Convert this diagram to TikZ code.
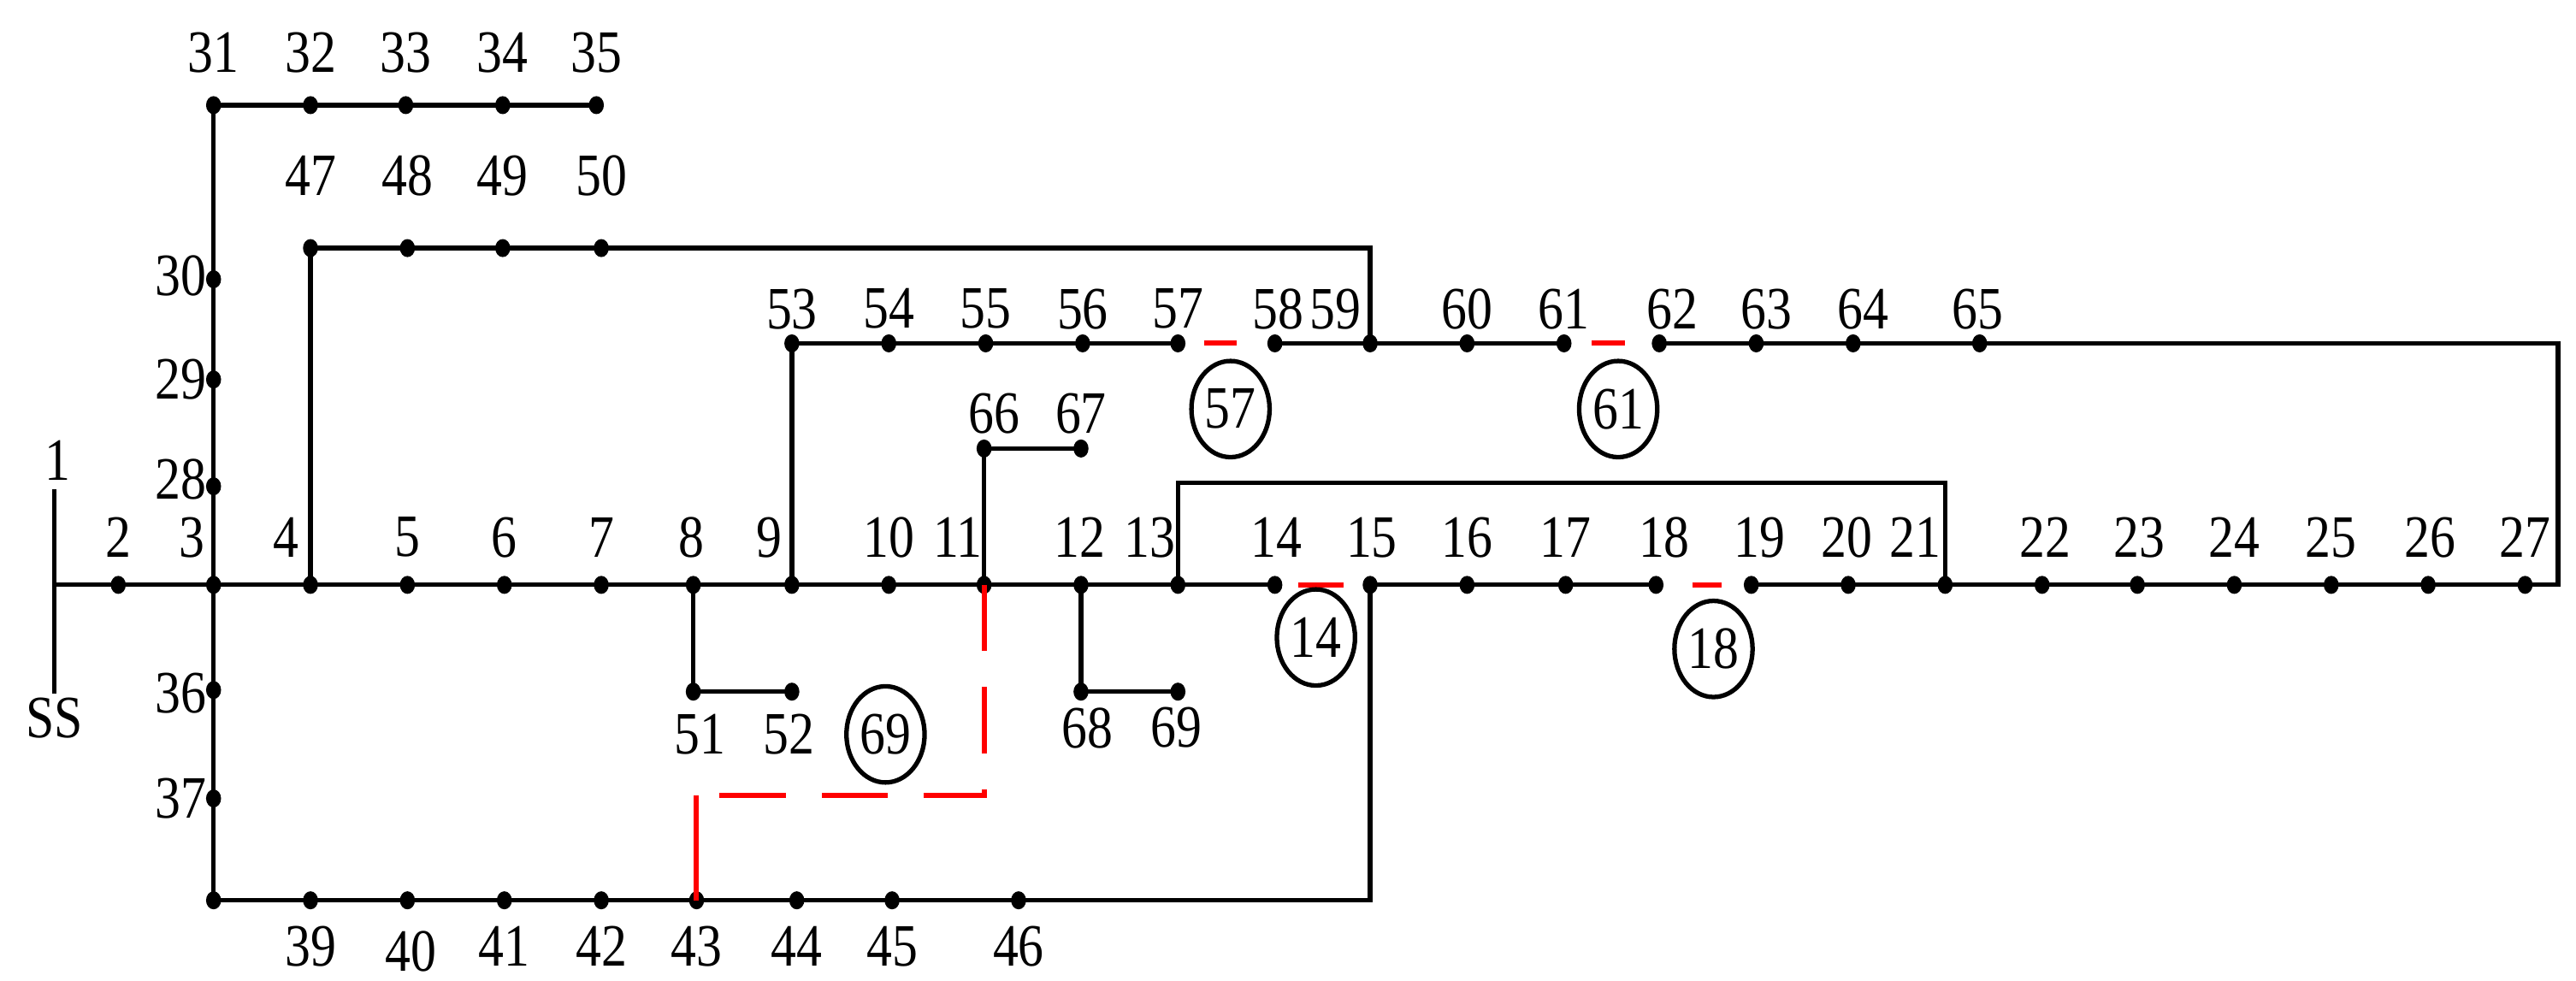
\documentclass[tikz,border=0pt]{standalone}
\usepackage{fontspec}
\setmainfont{Liberation Serif}
\tikzset{
  dot/.style={ellipse,fill=black,inner sep=0pt,minimum width=5pt,minimum height=6pt},
  lbl/.style={font=\fontsize{20}{20}\selectfont,inner sep=0pt,xscale=0.85},
  line/.style={black,line width=1.5pt},
  tie/.style={red,line width=1.7pt},
  loopno/.style={ellipse,draw=black,line width=1.5pt,minimum width=26pt,minimum height=32pt,inner sep=0pt,font=\fontsize{20}{20}\selectfont}
}
\usetikzlibrary{shapes.geometric}
\begin{document}
\begin{tikzpicture}[x=0.01921cm,y=-0.01921cm]
\useasboundingbox (0,0) rectangle (1568,597);
% main feeder
\coordinate (n1) at (33,356);
\coordinate (ssT) at (33,298);
\coordinate (ssB) at (33,422);
\foreach \n/\x in {2/72,3/130,4/189,5/248,6/307,7/366,8/422,9/482,10/541,11/599,12/658,13/717,14/776,15/834,16/893,17/953,18/1008,19/1066,20/1125,21/1184,22/1243,23/1301,24/1360,25/1419,26/1478,27/1537}
  \node[dot] (n\n) at (\x,356) {};
\foreach \n/\x in {2/72,3/117,4/174,5/248,6/307,7/366,8/421,9/468,10/541,11/583,12/657,13/700,14/777,15/835,16/893,17/953,18/1013,19/1071,20/1124,21/1166,22/1245,23/1302,24/1360,25/1419,26/1479,27/1537}
  \node[lbl] (t\n) at (\x,327) {\n};
\node[lbl] (t1) at (35,280) {1};
\node[lbl] (tss) at (33,437) {SS};
% left lateral
\foreach \n/\y in {28/296,29/231,30/170,36/420,37/486}
  \node[dot] (n\n) at (130,\y) {};
\foreach \n/\y in {28/292,29/231,30/168,36/422,37/486}
  \node[lbl] (t\n) at (110,\y) {\n};
\foreach \n/\x in {31/130,32/189,33/247,34/306,35/363}
  {\node[dot] (n\n) at (\x,64) {};
   \node[lbl] (t\n) at (\x,32) {\n};}
\foreach \n/\x in {47/189,48/248,49/306,50/366}
  {\node[dot] (n\n) at (\x,151) {};
   \node[lbl] (t\n) at (\x,107) {\n};}
\foreach \n/\x in {53/482,54/541,55/600,56/659,57/717,58/776,59/834,60/893,61/952,62/1010,63/1069,64/1128,65/1205}
  \node[dot] (n\n) at (\x,209) {};
\foreach \n/\x in {53/482,54/541,55/600,56/659,57/717,58/778,59/813,60/893,61/952,62/1018,63/1075,64/1134,65/1204}
  \node[lbl] (t\n) at (\x,188) {\n};
\node[dot] (n66) at (599,273) {};
\node[dot] (n67) at (658,273) {};
\node[lbl] (t66) at (605,252) {66};
\node[lbl] (t67) at (658,252) {67};
\node[dot] (n51) at (422,421) {};
\node[dot] (n52) at (482,421) {};
\node[lbl] (t51) at (426,447) {51};
\node[lbl] (t52) at (480,447) {52};
\node[dot] (n68) at (658,421) {};
\node[dot] (n69) at (717,421) {};
\node[lbl] (t68) at (662,443) {68};
\node[lbl] (t69) at (716,443) {69};
\foreach \n/\x in {38/130,39/189,40/248,41/307,42/366,43/424,44/485,45/543,46/620}
  \node[dot] (n\n) at (\x,548) {};
\foreach \n/\x/\y in {39/189/576,40/250/579,41/307/576,42/366/576,43/424/576,44/485/576,45/543/576,46/620/576}
  \node[lbl] (t\n) at (\x,\y) {\n};
% corners
\coordinate (c59) at (834,151);
\coordinate (cR1) at (1557,209);
\coordinate (cR2) at (1557,356);
\coordinate (c13) at (717,294);
\coordinate (c21) at (1184,294);
\coordinate (c15) at (834,548);
\coordinate (c69a) at (599,484);
\coordinate (c69b) at (424,484);
% lines
\draw[line] (ssT) -- (ssB);
\draw[line] (n1) -- (n2.center) -- (n3.center) -- (n4.center) -- (n5.center) -- (n6.center) -- (n7.center) -- (n8.center) -- (n9.center) -- (n10.center) -- (n11.center) -- (n12.center) -- (n13.center) -- (n14.center);
\draw[line] (n15.center) -- (n16.center) -- (n17.center) -- (n18.center);
\draw[line] (n19.center) -- (n20.center) -- (n21.center) -- (n22.center) -- (n23.center) -- (n24.center) -- (n25.center) -- (n26.center) -- (n27.center) -- (cR2) -- (cR1) -- (n65.center) -- (n64.center) -- (n63.center) -- (n62.center);
\draw[line] (n61.center) -- (n60.center) -- (n59.center) -- (n58.center);
\draw[line] (n57.center) -- (n56.center) -- (n55.center) -- (n54.center) -- (n53.center) -- (n9.center);
\draw[line] (n3.center) -- (n28.center) -- (n29.center) -- (n30.center) -- (n31.center) -- (n32.center) -- (n33.center) -- (n34.center) -- (n35.center);
\draw[line] (n4.center) -- (n47.center) -- (n48.center) -- (n49.center) -- (n50.center) -- (c59) -- (n59.center);
\draw[line] (n3.center) -- (n36.center) -- (n37.center) -- (n38.center) -- (n39.center) -- (n40.center) -- (n41.center) -- (n42.center) -- (n43.center) -- (n44.center) -- (n45.center) -- (n46.center) -- (c15) -- (n15.center);
\draw[line] (n13.center) -- (c13) -- (c21) -- (n21.center);
\draw[line] (n11.center) -- (n66.center) -- (n67.center);
\draw[line] (n8.center) -- (n51.center) -- (n52.center);
\draw[line] (n12.center) -- (n68.center) -- (n69.center);
% tie switches
\draw[tie] (790,356) -- (818,356);
\draw[tie] (1030,356) -- (1048,356);
\draw[tie] (733,209) -- (753,209);
\draw[tie] (969,209) -- (989,209);
\draw[tie,dash pattern=on 22pt off 12pt] (n11.center) -- (c69a) -- (c69b);
\draw[tie] (c69b) -- (n43.center);
% loop numbers
\node[loopno] (l57) at (749,249) {\scalebox{0.85}[1]{57}};
\node[loopno] (l61) at (985,249) {\scalebox{0.85}[1]{61}};
\node[loopno] (l14) at (801,388) {\scalebox{0.85}[1]{14}};
\node[loopno] (l18) at (1043,395) {\scalebox{0.85}[1]{18}};
\node[loopno] (l69) at (539,447) {\scalebox{0.85}[1]{69}};
\end{tikzpicture}
\end{document}
